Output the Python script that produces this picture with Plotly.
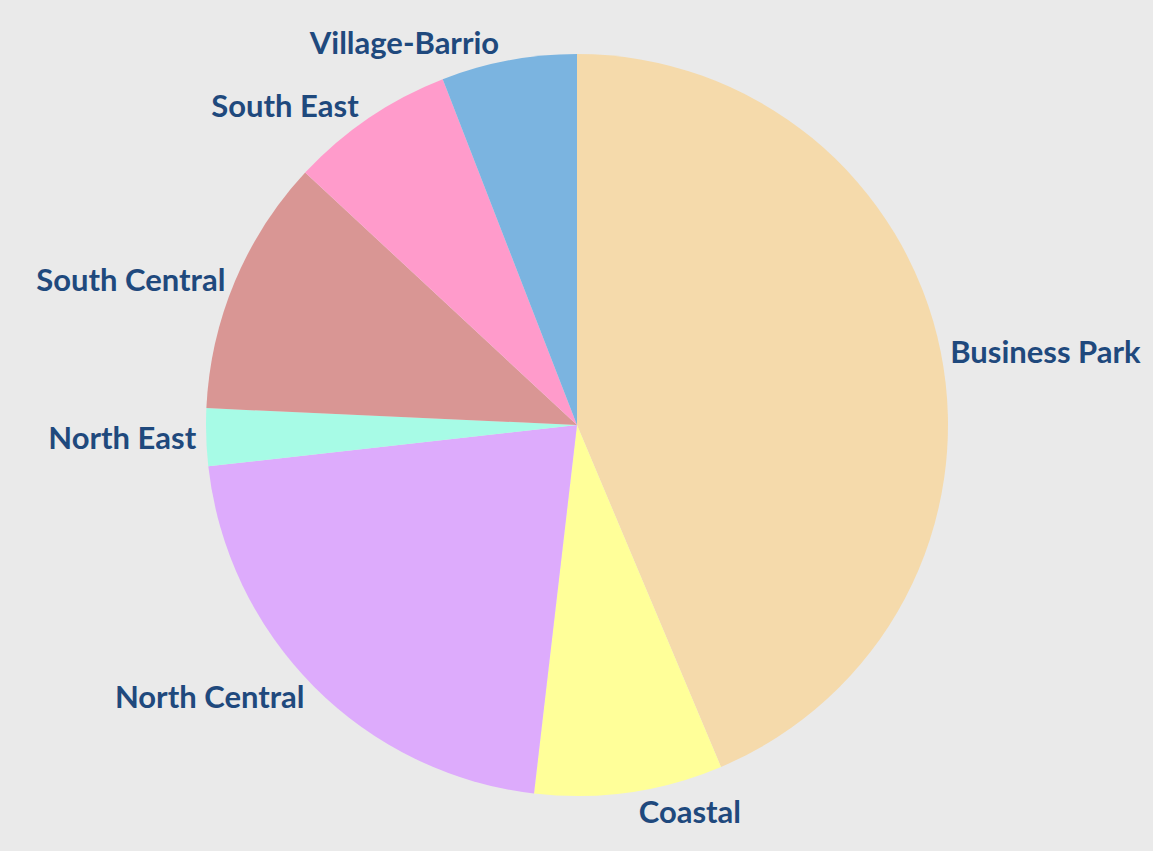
import plotly.graph_objects as go

regions = ["Business Park", "Coastal", "North Central", "North East",
           "South Central", "South East", "Village-Barrio"]
shares = [43.7, 8.2, 21.4, 2.5, 11.2, 7.2, 5.9]
colors = ["#F5DAAB", "#FFFF99", "#DDABFC", "#A7FBE6", "#D99694", "#FF9BCB", "#7BB4E0"]

fig = go.Figure(go.Pie(
    labels=regions,
    values=shares,
    sort=False,
    direction="clockwise",
    rotation=0,
    marker=dict(colors=colors, line=dict(width=0)),
    textposition="outside",
    texttemplate="%{label}",
    textfont=dict(family="Lato, 'Open Sans', sans-serif", size=31, color="#1F497D", weight="bold"),
    showlegend=False,
    hoverinfo="label+percent",
))

fig.update_layout(
    width=1153, height=851,
    margin=dict(l=206, r=205, t=54, b=55),
    paper_bgcolor="#EAEAEA",
    plot_bgcolor="#EAEAEA",
)

fig.write_html(
    "out.html",
    config={"displayModeBar": False},
    post_script="document.body.style.margin='0';document.body.style.background='#EAEAEA';document.body.style.overflow='hidden';",
)
